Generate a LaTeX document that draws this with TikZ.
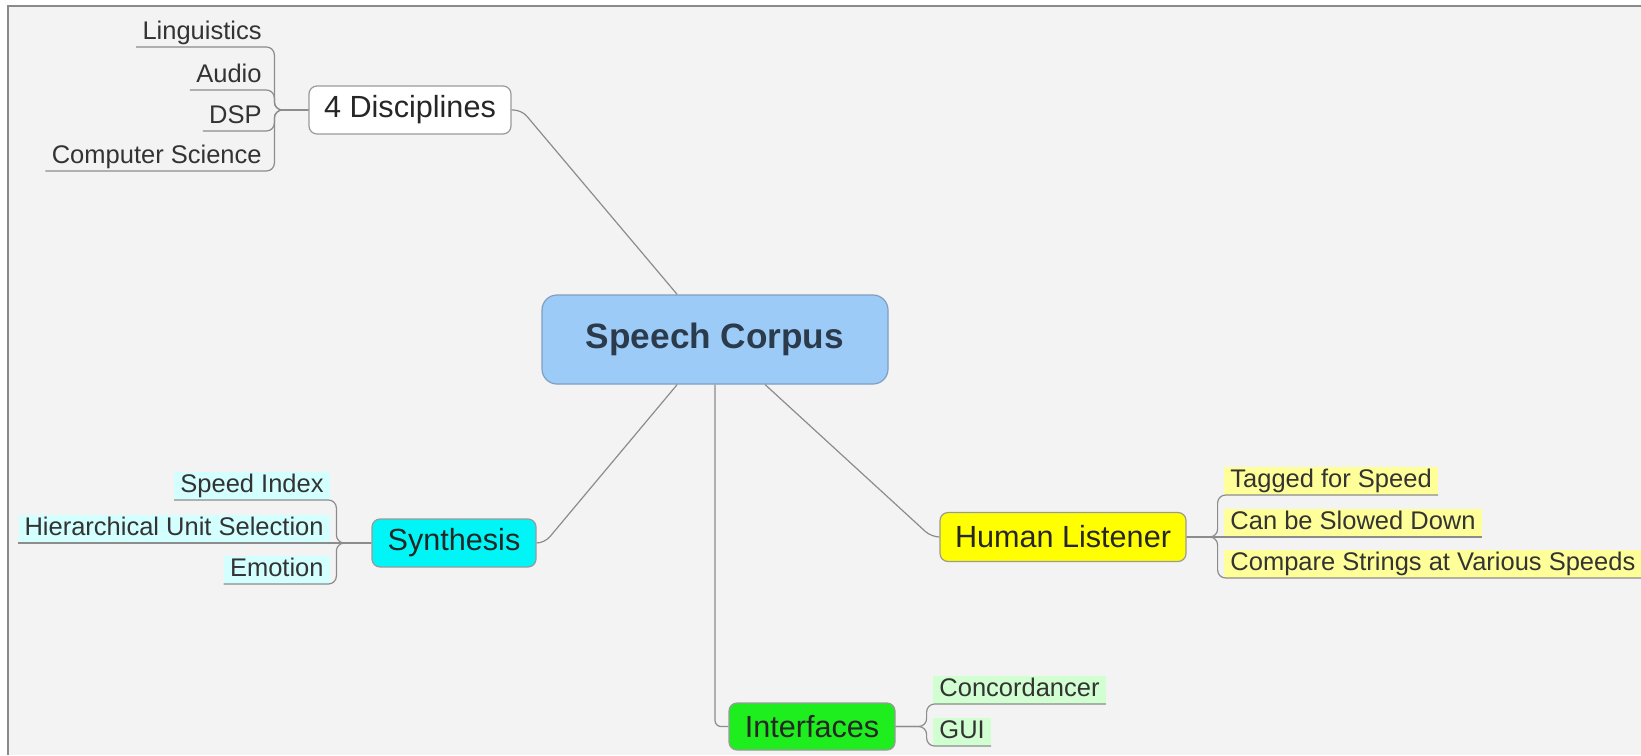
\documentclass[tikz,border=0pt]{standalone}
\usepackage{fontspec}
\setmainfont{Liberation Sans}
\usepackage{tikz}
\usetikzlibrary{positioning, calc}

\definecolor{bgfill}{HTML}{F3F3F3}
\definecolor{framegray}{HTML}{8A8A8A}
\definecolor{linkgray}{HTML}{8C8C8C}
\definecolor{boxgray}{HTML}{9A9A9A}
\definecolor{corpusblue}{HTML}{9CCBF8}
\definecolor{corpusedge}{HTML}{7F9EC0}
\definecolor{corpustext}{HTML}{2C3B4C}
\definecolor{synthcyan}{HTML}{00F6F6}
\definecolor{humanyellow}{HTML}{FFFF00}
\definecolor{intfgreen}{HTML}{1EEE1E}
\definecolor{leafcyan}{HTML}{D4FFFF}
\definecolor{leafyellow}{HTML}{FFFF99}
\definecolor{leafgreen}{HTML}{D2FFD2}
\definecolor{leaftext}{HTML}{333333}

\begin{document}
\begin{tikzpicture}[
  x=0.5pt, y=-0.5pt,
  topic/.style={draw=boxgray, line width=0.6pt, rounded corners=4pt, inner sep=0pt, align=center, text=black!85, font=\fontsize{15.3}{18}\selectfont},
  center/.style={draw=corpusedge, line width=0.6pt, fill=corpusblue, rounded corners=7.5pt, inner sep=0pt, text=corpustext, font=\fontsize{17.6}{21}\selectfont\bfseries, minimum width=173pt, minimum height=44.5pt},
  leaf/.style={inner xsep=3pt, inner ysep=0.5pt, text height=9.5pt, text depth=3.2pt, text=leaftext, font=\fontsize{12.75}{15}\selectfont},
  link/.style={draw=linkgray, line width=0.6pt, rounded corners=4pt}
]

% frame and background
\useasboundingbox (0,0) rectangle (1641,755);
\fill[bgfill] (8,6) rectangle (1641,755);
\draw[framegray, line width=1pt] (1641,6) -- (8,6) -- (8,755);

% central topic
\node[center] (corpus) at (715,339.5) {Speech Corpus};

% main topics
\node[topic, fill=white, minimum width=101pt, minimum height=24pt] (disc) at (410,110) {4 Disciplines};
\node[topic, fill=synthcyan, minimum width=82pt, minimum height=24pt] (synth) at (454,543) {Synthesis};
\node[topic, fill=humanyellow, minimum width=123pt, minimum height=24.5pt] (human) at (1063,537) {Human Listener};
\node[topic, fill=intfgreen, minimum width=83pt, minimum height=23.5pt] (intf) at (812,726.5) {Interfaces};

% subtopics of 4 Disciplines
\node[leaf, anchor=south east] (ling) at (268,47) {Linguistics};
\node[leaf, anchor=south east] (audio) at (268,90) {Audio};
\node[leaf, anchor=south east] (dsp) at (268,131) {DSP};
\node[leaf, anchor=south east] (cs) at (268,171) {Computer Science};

% subtopics of Synthesis
\node[leaf, fill=leafcyan, anchor=south east] (speedidx) at (330,500) {Speed Index};
\node[leaf, fill=leafcyan, anchor=south east] (hier) at (330,543) {Hierarchical Unit Selection};
\node[leaf, fill=leafcyan, anchor=south east] (emotion) at (330,584) {Emotion};

% subtopics of Human Listener
\node[leaf, fill=leafyellow, anchor=south west] (tagged) at (1224,495) {Tagged for Speed};
\node[leaf, fill=leafyellow, anchor=south west] (slowed) at (1224,537) {Can be Slowed Down};
\node[leaf, fill=leafyellow, anchor=south west] (compare) at (1224,578) {Compare Strings at Various Speeds};

% subtopics of Interfaces
\node[leaf, fill=leafgreen, anchor=south west] (concord) at (933,704) {Concordancer};
\node[leaf, fill=leafgreen, anchor=south west] (gui) at (933,746) {GUI};

% links from the centre
\draw[link] (disc.east) -- ++(10,0) -- (corpus.130);
\draw[link] (synth.east) -- ++(8,0) -- (corpus.230);
\draw[link] (human.west) -- ++(-8,0) -- (corpus.318);
\draw[link, rounded corners=3pt] (corpus.south) |- (intf.west);

% links to subtopics
\foreach \leaf in {ling,audio,dsp,cs}
  \draw[link] (disc.west) -- ++(-34,0) |- (\leaf.south west);
\foreach \leaf in {speedidx,emotion}
  \draw[link] (synth.west) -- ++(-35,0) |- (\leaf.south west);
\draw[link] (synth.west) -- (hier.south west);
\foreach \leaf in {tagged,compare}
  \draw[link] (human.east) -- ++(31,0) |- (\leaf.south east);
\draw[link] (human.east) -- (slowed.south east);
\foreach \leaf in {concord,gui}
  \draw[link] (intf.east) -- ++(31,0) |- (\leaf.south east);

\end{tikzpicture}
\end{document}
